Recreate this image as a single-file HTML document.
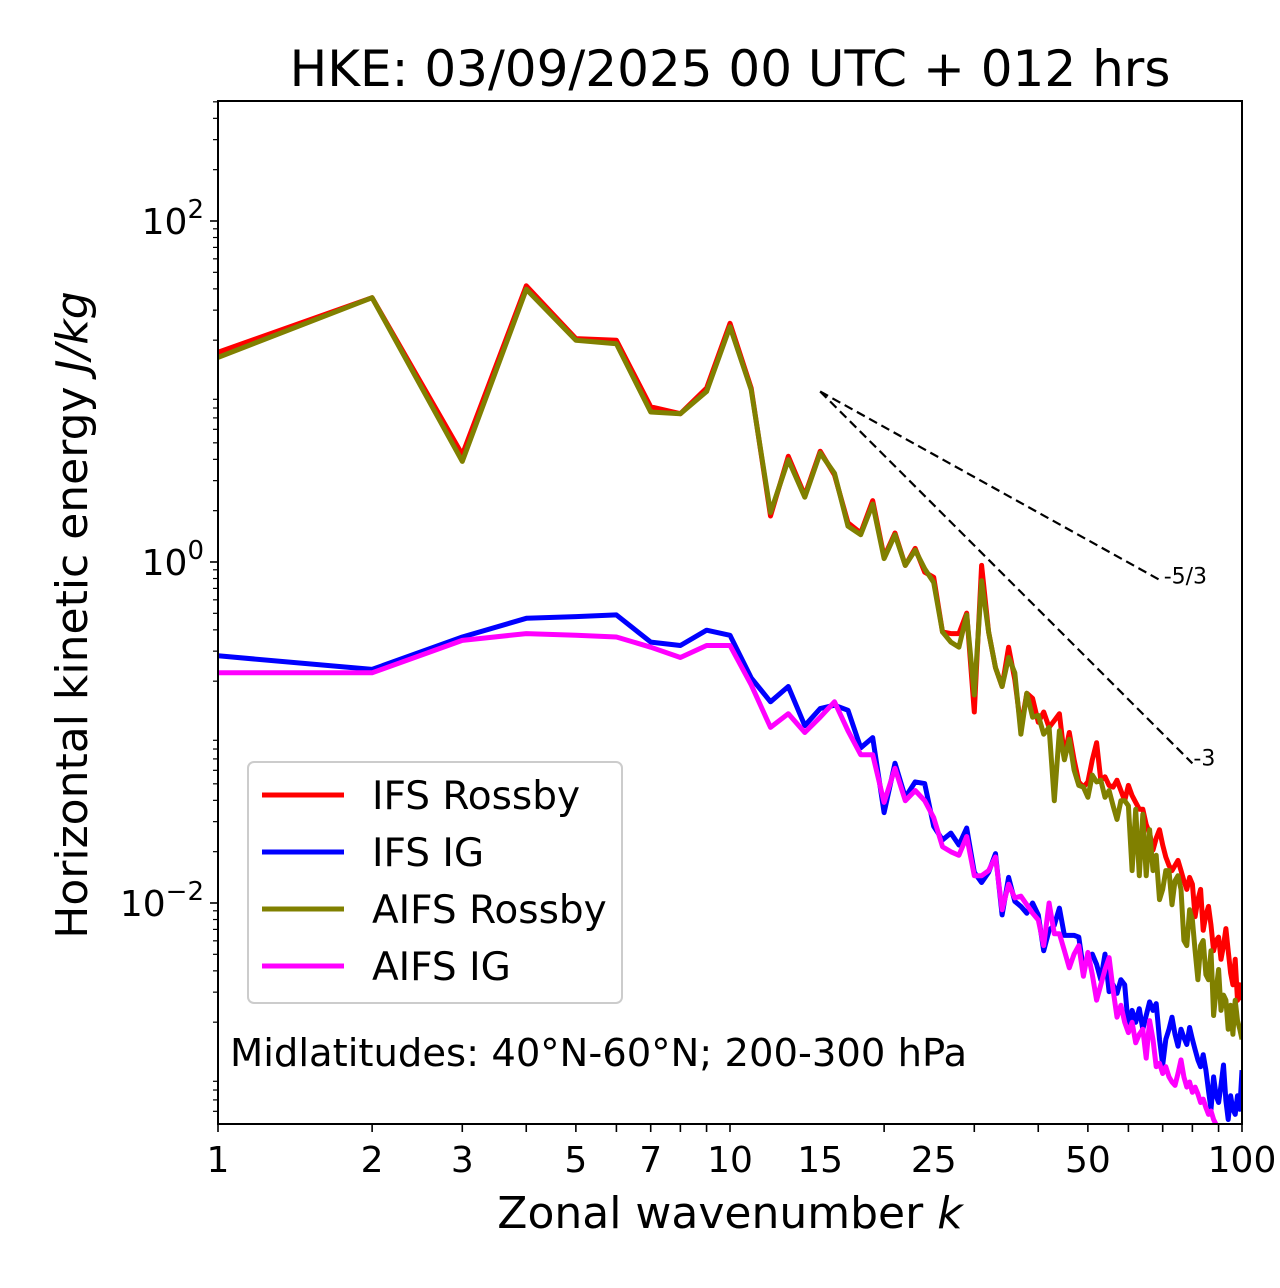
<!DOCTYPE html>
<html><head><meta charset="utf-8"><style>
html,body{margin:0;padding:0;background:#fff;}
svg{display:block;font-family:"Liberation Sans","DejaVu Sans",sans-serif;}
</style></head><body>
<svg id="chart" width="1280" height="1288" viewBox="0 0 1280 1288" xmlns="http://www.w3.org/2000/svg">
<rect x="0" y="0" width="1280" height="1288" fill="#fff"/>
<text x="730" y="86" font-size="50" text-anchor="middle" font-family="DejaVu Sans, Liberation Sans, sans-serif">HKE: 03/09/2025 00 UTC + 012 hrs</text>
<defs><clipPath id="plotclip"><rect x="218" y="101" width="1024" height="1023"/></clipPath></defs>
<g id="ticks"></g>
<g id="series" clip-path="url(#plotclip)"></g>
<rect x="218" y="101" width="1024" height="1023" fill="none" stroke="#000" stroke-width="2"/>
<text x="730" y="1228" font-size="44" text-anchor="middle" font-family="DejaVu Sans, Liberation Sans, sans-serif">Zonal wavenumber <tspan font-style="italic">k</tspan></text>
<text transform="translate(87,615) rotate(-90)" font-size="44" text-anchor="middle" font-family="DejaVu Sans, Liberation Sans, sans-serif">Horizontal kinetic energy <tspan font-style="italic">J/kg</tspan></text>
<text x="230" y="1066" font-size="38.5" font-family="DejaVu Sans, Liberation Sans, sans-serif">Midlatitudes: 40°N-60°N; 200-300 hPa</text>
<g>
<rect x="248" y="762" width="374" height="241" rx="6" fill="#fff" fill-opacity="0.8" stroke="#ccc" stroke-width="2"/>
<g id="legend-entries"></g>
</g>
</svg>
<script>
// wavenumbers 1..100; values stored as log10 of energy (J/kg)
const wavenumbers = Array.from({length:100},(_, i)=>i+1);
const ifsRossbyLog10 = [1.23,1.55,0.63,1.62,1.31,1.30,0.91,0.87,1.02,1.40,1.02,0.27,0.62,0.39,0.65,0.51,0.23,0.17,0.36,0.03,0.17,-0.02,0.08,-0.06,-0.09,-0.41,-0.42,-0.42,-0.30,-0.88,-0.02,-0.41,-0.62,-0.73,-0.50,-0.69,-0.97,-0.77,-0.80,-0.94,-0.88,-0.97,-0.93,-0.89,-1.14,-1.00,-1.16,-1.29,-1.32,-1.29,-1.16,-1.06,-1.28,-1.26,-1.31,-1.32,-1.28,-1.34,-1.40,-1.31,-1.37,-1.41,-1.45,-1.45,-1.54,-1.59,-1.69,-1.62,-1.57,-1.66,-1.73,-1.78,-1.81,-1.78,-1.75,-1.81,-1.87,-1.92,-1.85,-1.89,-2.08,-1.98,-1.92,-2.16,-2.07,-2.02,-2.13,-2.28,-2.22,-2.20,-2.33,-2.25,-2.15,-2.28,-2.41,-2.48,-2.33,-2.57,-2.48,-2.57];
const aifsRossbyLog10 = [1.20,1.55,0.59,1.60,1.30,1.28,0.88,0.87,1.00,1.38,1.01,0.29,0.60,0.38,0.64,0.52,0.21,0.16,0.34,0.02,0.16,-0.02,0.07,-0.04,-0.12,-0.41,-0.47,-0.50,-0.31,-0.78,-0.11,-0.41,-0.62,-0.73,-0.56,-0.65,-1.01,-0.77,-0.91,-0.90,-1.01,-0.97,-1.40,-0.99,-1.16,-1.04,-1.22,-1.31,-1.32,-1.38,-1.25,-1.29,-1.28,-1.38,-1.34,-1.43,-1.51,-1.40,-1.40,-1.43,-1.81,-1.45,-1.84,-1.48,-1.84,-1.57,-1.81,-1.72,-1.98,-1.92,-1.81,-1.81,-2.01,-1.87,-1.84,-1.92,-2.22,-2.25,-2.04,-2.10,-2.28,-2.45,-2.25,-2.22,-2.42,-2.45,-2.28,-2.66,-2.51,-2.39,-2.63,-2.54,-2.57,-2.74,-2.60,-2.77,-2.57,-2.69,-2.74,-2.80];
const ifsIGLog10 = [-0.55,-0.63,-0.44,-0.33,-0.32,-0.31,-0.47,-0.49,-0.40,-0.43,-0.68,-0.82,-0.73,-0.96,-0.86,-0.84,-0.87,-1.09,-1.03,-1.47,-1.18,-1.38,-1.29,-1.30,-1.55,-1.63,-1.59,-1.66,-1.56,-1.82,-1.88,-1.82,-1.71,-2.07,-1.85,-1.99,-2.02,-2.06,-2.00,-2.07,-2.28,-2.16,-2.13,-2.03,-2.19,-2.19,-2.19,-2.20,-2.39,-2.33,-2.30,-2.36,-2.45,-2.30,-2.52,-2.48,-2.53,-2.45,-2.48,-2.73,-2.63,-2.70,-2.62,-2.74,-2.66,-2.58,-2.63,-2.59,-2.80,-2.95,-2.80,-2.74,-2.67,-2.77,-2.84,-2.74,-2.79,-2.83,-2.73,-2.80,-2.86,-2.92,-2.96,-2.89,-2.98,-3.10,-3.21,-3.02,-3.13,-3.17,-3.07,-2.95,-3.16,-3.27,-3.13,-3.21,-3.24,-3.13,-3.21,-2.98];
const aifsIGLog10 = [-0.65,-0.65,-0.46,-0.42,-0.43,-0.44,-0.50,-0.56,-0.49,-0.49,-0.72,-0.97,-0.89,-1.00,-0.91,-0.82,-0.99,-1.13,-1.13,-1.41,-1.21,-1.40,-1.34,-1.40,-1.50,-1.67,-1.70,-1.72,-1.61,-1.84,-1.84,-1.81,-1.73,-2.04,-1.89,-1.97,-1.96,-2.01,-2.06,-2.10,-2.25,-2.00,-2.18,-2.18,-2.28,-2.38,-2.30,-2.25,-2.43,-2.29,-2.42,-2.57,-2.48,-2.39,-2.32,-2.51,-2.67,-2.60,-2.70,-2.76,-2.70,-2.82,-2.77,-2.74,-2.91,-2.69,-2.80,-2.96,-2.94,-3.00,-2.96,-3.02,-3.05,-3.07,-3.00,-2.92,-3.02,-3.08,-3.05,-3.11,-3.08,-3.12,-3.17,-3.15,-3.20,-3.24,-3.22,-3.27,-3.30,-3.34,-3.38,-3.36,-3.42,-3.46,-3.44,-3.50,-3.55,-3.52,-3.58,-3.62];
const seriesNames = ["IFS Rossby","IFS IG","AIFS Rossby","AIFS IG"];
const seriesColors = ["#ff0000","#0000ff","#808000","#ff00ff"];
const xTickLabels = [1,2,3,5,7,10,15,25,50,100];
const yTickDecades = [2,0,-2];
const slopeLines = [{k0:15,e0:10,k1:70,slope:-5/3,label:"-5/3"},{k0:15,e0:10,k1:80,slope:-3,label:"-3"}];

const NS="http://www.w3.org/2000/svg";
const X0=218,X1=1242,Y0=101,Y1=1124;
const xmin=0,xmax=2, ymin=-3.2962,ymax=2.7038;
const xs=k=>X0+(Math.log10(k)-xmin)/(xmax-xmin)*(X1-X0);
const ysL=L=>Y1-(L-ymin)/(ymax-ymin)*(Y1-Y0);
const ys=v=>ysL(Math.log10(v));
function mk(tag,attrs,parent){const e=document.createElementNS(NS,tag);for(const a in attrs)e.setAttribute(a,attrs[a]);parent.appendChild(e);return e;}
const FONT='DejaVu Sans, Liberation Sans, sans-serif';
const ticks=document.getElementById('ticks');
for(let d=0;d<2;d++)for(let m=1;m<=9;m++){const k=m*Math.pow(10,d);
  const t=mk('line',{x1:xs(k),x2:xs(k),y1:Y1,y2:Y1+8,stroke:'#000','stroke-width':1.6},ticks);
  
  }
{const t=mk('line',{x1:xs(100),x2:xs(100),y1:Y1,y2:Y1+8,stroke:'#000','stroke-width':1.6},ticks);
 
 }
xTickLabels.forEach(k=>{const t=mk('text',{x:xs(k),y:Y1+48,'font-size':36,'text-anchor':'middle','font-family':FONT},ticks);
  t.textContent=k;
  
  });
for(let d=-4;d<=2;d++){
  for(let m=1;m<=9;m++){const L=d+Math.log10(m);const y=ysL(L);if(y<Y0||y>Y1)continue;
    const major=(m===1&&d%2===0);
    if(m===1&&!major)continue;
    const t=mk('line',{x1:X0-(major?8:5),x2:X0,y1:y,y2:y,stroke:'#000','stroke-width':major?1.6:1.2},ticks);
    
    }
}
yTickDecades.forEach(d=>{const t=mk('text',{x:X0-14,y:ysL(d)+13,'font-size':36,'text-anchor':'end','font-family':FONT},ticks);
  t.innerHTML='10<tspan dy="-16" font-size="26">'+(d<0?'\u2212'+(-d):d)+'</tspan>';
  
  });

const g=document.getElementById('series');
const allSeries=[ifsRossbyLog10,ifsIGLog10,aifsRossbyLog10,aifsIGLog10];
const order=[0,2,1,3];
order.forEach(i=>{const arr=allSeries[i];
  const pts=arr.map((L,j)=>xs(wavenumbers[j]).toFixed(1)+','+ysL(L).toFixed(1)).join(' ');
  const p=mk('polyline',{points:pts,fill:'none',stroke:seriesColors[i],'stroke-width':5,'stroke-linejoin':'round'},g);
  
  });
slopeLines.forEach(s=>{const e1=s.e0*Math.pow(s.k1/s.k0,s.slope);
  const l=mk('line',{x1:xs(s.k0),y1:ys(s.e0),x2:xs(s.k1),y2:ys(e1),stroke:'#000','stroke-width':2.2,'stroke-dasharray':'9,5'},g);
  
  
  const t=mk('text',{x:xs(s.k1)+1,y:ys(e1)+2,'font-size':22,'font-family':FONT},document.getElementById('chart'));
  t.textContent=s.label;
  
  });
const lg=document.getElementById('legend-entries');
seriesNames.forEach((n,i)=>{const y=795+i*57;
  const l=mk('line',{x1:262,x2:344,y1:y,y2:y,stroke:seriesColors[i],'stroke-width':5},lg);
  
  
  const t=mk('text',{x:372,y:y+14,'font-size':39,'font-family':FONT},lg);
  t.textContent=n;
  
  });
</script>
</body></html>
